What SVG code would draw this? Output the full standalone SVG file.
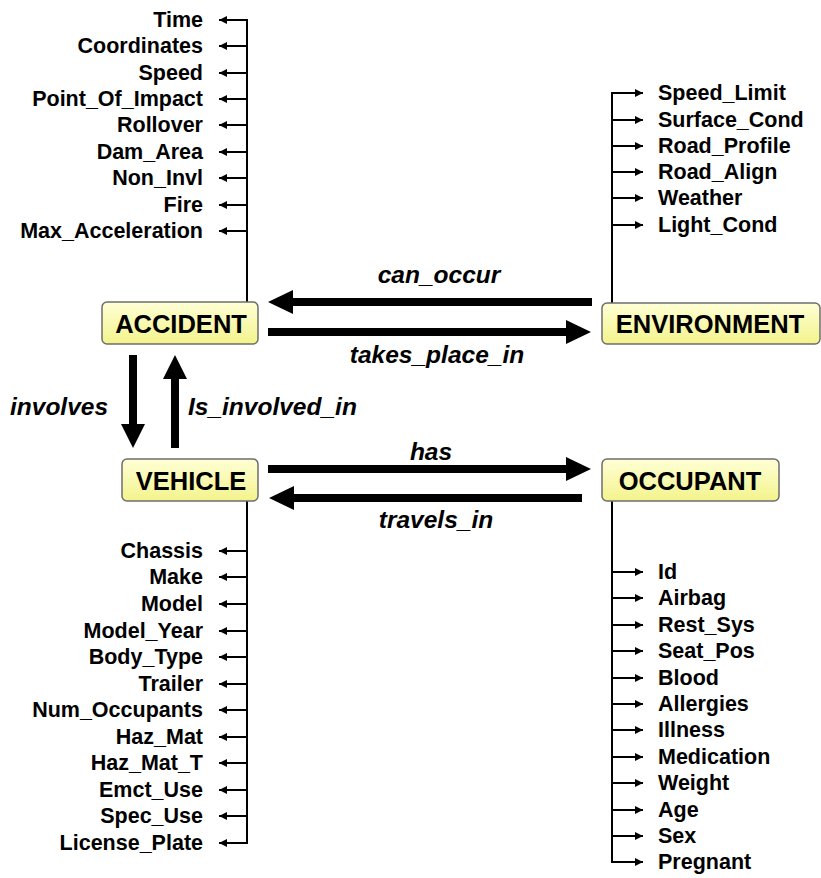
<svg xmlns="http://www.w3.org/2000/svg" width="821" height="878" viewBox="0 0 821 878">
<defs>
<linearGradient id="g" x1="0" y1="0" x2="0" y2="1">
<stop offset="0" stop-color="#ffffd6"/>
<stop offset="1" stop-color="#f3f38c"/>
</linearGradient>
<marker id="sa" viewBox="0 0 10 10" refX="10" refY="5" markerWidth="10" markerHeight="8" markerUnits="userSpaceOnUse" orient="auto">
<path d="M0,0 L10,5 L0,10 Z" fill="#000"/>
</marker>
<style>
.box{fill:url(#g);stroke:#6e6e6e;stroke-width:1.5}
.nt{font-family:"Liberation Sans",Arial,sans-serif;font-weight:bold;font-size:25.5px;text-anchor:middle;fill:#000}
.at{font-family:"Liberation Sans",Arial,sans-serif;font-weight:bold;font-size:21.5px;fill:#000}
.l{text-anchor:end}
.el{font-family:"Liberation Sans",Arial,sans-serif;font-weight:bold;font-style:italic;font-size:24.5px;fill:#000}
.c{text-anchor:middle}
.tree{stroke:#000;stroke-width:2;fill:none}
.br{stroke:#000;stroke-width:2;fill:none;marker-end:url(#sa)}
.big{fill:#000}
</style>
</defs>

<g id="connectors">
<path class="tree" d="M247,302 V20 H240"/>
<line class="br" x1="247" y1="20" x2="219" y2="20"/>
<line class="br" x1="247" y1="46" x2="219" y2="46"/>
<line class="br" x1="247" y1="73" x2="219" y2="73"/>
<line class="br" x1="247" y1="99" x2="219" y2="99"/>
<line class="br" x1="247" y1="125" x2="219" y2="125"/>
<line class="br" x1="247" y1="152" x2="219" y2="152"/>
<line class="br" x1="247" y1="178" x2="219" y2="178"/>
<line class="br" x1="247" y1="205" x2="219" y2="205"/>
<line class="br" x1="247" y1="231" x2="219" y2="231"/>

<path class="tree" d="M612,303 V93"/>
<line class="br" x1="611" y1="93" x2="643" y2="93"/>
<line class="br" x1="612" y1="120" x2="643" y2="120"/>
<line class="br" x1="612" y1="146" x2="643" y2="146"/>
<line class="br" x1="612" y1="172" x2="643" y2="172"/>
<line class="br" x1="612" y1="198" x2="643" y2="198"/>
<line class="br" x1="612" y1="225" x2="643" y2="225"/>

<path class="tree" d="M247,501 V843"/>
<line class="br" x1="247" y1="551" x2="219" y2="551"/>
<line class="br" x1="247" y1="577" x2="219" y2="577"/>
<line class="br" x1="247" y1="604" x2="219" y2="604"/>
<line class="br" x1="247" y1="631" x2="219" y2="631"/>
<line class="br" x1="247" y1="657" x2="219" y2="657"/>
<line class="br" x1="247" y1="684" x2="219" y2="684"/>
<line class="br" x1="247" y1="710" x2="219" y2="710"/>
<line class="br" x1="247" y1="737" x2="219" y2="737"/>
<line class="br" x1="247" y1="763" x2="219" y2="763"/>
<line class="br" x1="247" y1="790" x2="219" y2="790"/>
<line class="br" x1="247" y1="816" x2="219" y2="816"/>
<line class="br" x1="248" y1="843" x2="219" y2="843"/>

<path class="tree" d="M612,501 V862"/>
<line class="br" x1="612" y1="572" x2="643" y2="572"/>
<line class="br" x1="612" y1="598" x2="643" y2="598"/>
<line class="br" x1="612" y1="625" x2="643" y2="625"/>
<line class="br" x1="612" y1="651" x2="643" y2="651"/>
<line class="br" x1="612" y1="678" x2="643" y2="678"/>
<line class="br" x1="612" y1="704" x2="643" y2="704"/>
<line class="br" x1="612" y1="730" x2="643" y2="730"/>
<line class="br" x1="612" y1="757" x2="643" y2="757"/>
<line class="br" x1="612" y1="783" x2="643" y2="783"/>
<line class="br" x1="612" y1="810" x2="643" y2="810"/>
<line class="br" x1="612" y1="836" x2="643" y2="836"/>
<line class="br" x1="611" y1="862" x2="643" y2="862"/>

<polygon class="big" points="592,298 293,298 293,290 268,302 293,314 293,306 592,306"/>
<polygon class="big" points="268,328 566,328 566,320 591,332 566,344 566,336 268,336"/>
<polygon class="big" points="268,465 566,465 566,457 591,469 566,481 566,473 268,473"/>
<polygon class="big" points="582,494 294,494 294,486 269,498 294,510 294,502 582,502"/>
<polygon class="big" points="129,355 129,424 121,424 133,448 145,424 137,424 137,355"/>
<polygon class="big" points="171,448 171,379 163,379 175,355 187,379 179,379 179,448"/>

<text class="el c" x="439" y="283">can_occur</text>
<text class="el c" x="437" y="363">takes_place_in</text>
<text class="el c" x="431" y="460">has</text>
<text class="el c" x="436" y="528">travels_in</text>
<text class="el" x="10" y="415">involves</text>
<text class="el" x="188" y="415">Is_involved_in</text>
</g>

<g id="accident">
<rect class="box" x="102" y="302" width="156" height="42" rx="5"/>
<text class="nt" x="181" y="333">ACCIDENT</text>
<text class="at l" x="203" y="27">Time</text>
<text class="at l" x="203" y="53">Coordinates</text>
<text class="at l" x="203" y="80">Speed</text>
<text class="at l" x="203" y="106">Point_Of_Impact</text>
<text class="at l" x="203" y="132">Rollover</text>
<text class="at l" x="203" y="159">Dam_Area</text>
<text class="at l" x="203" y="185">Non_Invl</text>
<text class="at l" x="203" y="212">Fire</text>
<text class="at l" x="203" y="238">Max_Acceleration</text>
</g>

<g id="environment">
<rect class="box" x="602" y="303" width="218" height="41" rx="5"/>
<text class="nt" x="710" y="333">ENVIRONMENT</text>
<text class="at" x="658" y="100">Speed_Limit</text>
<text class="at" x="658" y="127">Surface_Cond</text>
<text class="at" x="658" y="153">Road_Profile</text>
<text class="at" x="658" y="179">Road_Align</text>
<text class="at" x="658" y="205">Weather</text>
<text class="at" x="658" y="232">Light_Cond</text>
</g>

<g id="vehicle">
<rect class="box" x="122" y="459" width="136" height="42" rx="5"/>
<text class="nt" x="191" y="490">VEHICLE</text>
<text class="at l" x="203" y="558">Chassis</text>
<text class="at l" x="203" y="584">Make</text>
<text class="at l" x="203" y="611">Model</text>
<text class="at l" x="203" y="638">Model_Year</text>
<text class="at l" x="203" y="664">Body_Type</text>
<text class="at l" x="203" y="691">Trailer</text>
<text class="at l" x="203" y="717">Num_Occupants</text>
<text class="at l" x="203" y="744">Haz_Mat</text>
<text class="at l" x="203" y="770">Haz_Mat_T</text>
<text class="at l" x="203" y="797">Emct_Use</text>
<text class="at l" x="203" y="823">Spec_Use</text>
<text class="at l" x="203" y="850">License_Plate</text>
</g>

<g id="occupant">
<rect class="box" x="602" y="459" width="177" height="42" rx="5"/>
<text class="nt" x="690" y="490">OCCUPANT</text>
<text class="at" x="658" y="579">Id</text>
<text class="at" x="658" y="605">Airbag</text>
<text class="at" x="658" y="632">Rest_Sys</text>
<text class="at" x="658" y="658">Seat_Pos</text>
<text class="at" x="658" y="685">Blood</text>
<text class="at" x="658" y="711">Allergies</text>
<text class="at" x="658" y="737">Illness</text>
<text class="at" x="658" y="764">Medication</text>
<text class="at" x="658" y="790">Weight</text>
<text class="at" x="658" y="817">Age</text>
<text class="at" x="658" y="843">Sex</text>
<text class="at" x="658" y="869">Pregnant</text>
</g>
</svg>
